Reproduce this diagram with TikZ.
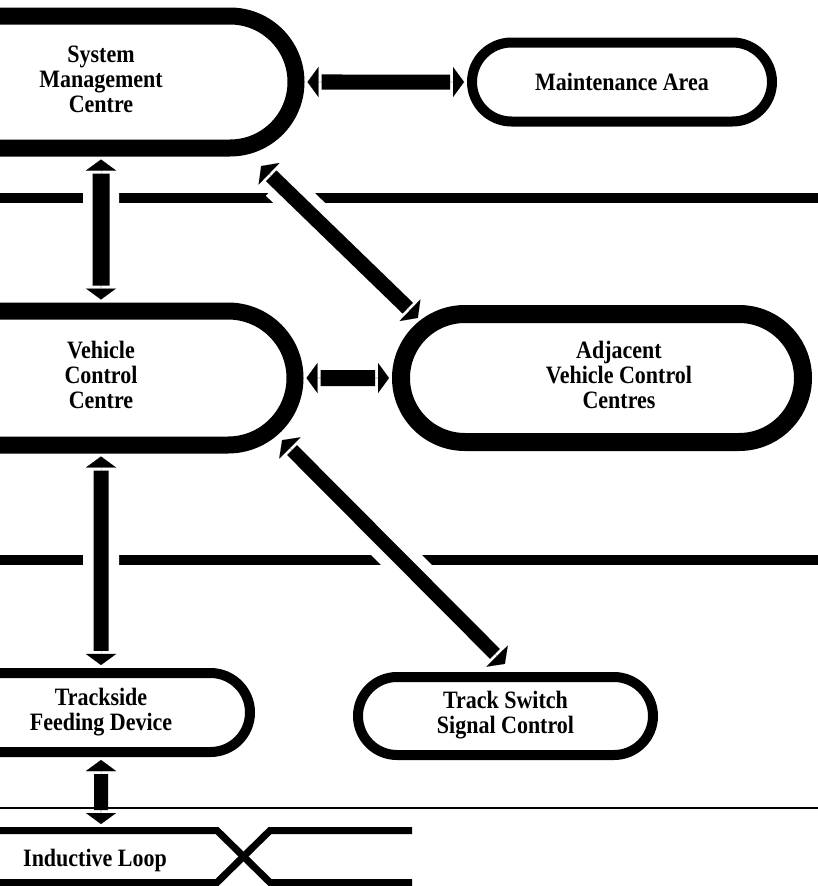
\documentclass[tikz,border=0pt]{standalone}
\usepackage{fontspec}
\setmainfont{Liberation Serif}[FakeStretch=0.88]
\usetikzlibrary{shapes.misc,arrows.meta}
\pgfdeclarelayer{rails}
\pgfsetlayers{rails,main}
\newcommand\boxlines[1]{\begin{tabular}{@{}c@{}}#1\end{tabular}}
\begin{document}
\begin{tikzpicture}[x=1pt,y=-1pt,
  lbl/.style={font=\bfseries\fontsize{25}{25}\selectfont},
  pill/.style={lbl, rounded rectangle, draw, inner sep=0pt},
  heavy/.style={pill, line width=17pt},
  light/.style={pill, line width=10pt},
  rail/.style={line width=10pt},
  halo/.style={preaction={draw=white, -, line width=36pt, shorten <=27pt, shorten >=27pt}},
  shaft/.style={preaction={draw=black, -, line width=#1, shorten <=17pt, shorten >=17pt}},
  link/.style={draw=black, line width=0.01pt,
    {Triangle[length=11pt,width=30pt]}-{Triangle[length=11pt,width=30pt]},
    shorten <=3pt, shorten >=3pt},
]
\useasboundingbox (0,0) rectangle (818,886);

% zone separators
\begin{pgfonlayer}{rails}
  \draw[rail] (0,198) -- (818,198);
  \draw[rail] (0,560) -- (818,560);
  \draw[line width=2pt] (0,808) -- (818,808);
\end{pgfonlayer}

% centres and devices
\node[heavy, minimum width=390pt, minimum height=132pt] (smc) at (101,82)
  {\boxlines{System\\Management\\Centre}};
\node[light, minimum width=300pt, minimum height=79pt] (ma) at (622,82)
  {Maintenance Area};
\node[heavy, minimum width=388pt, minimum height=134pt] (vcc) at (101,378)
  {\boxlines{Vehicle\\Control\\Centre}};
\node[heavy, line width=18pt, minimum width=402pt, minimum height=128pt] (avcc) at (602,378)
  {\kern34pt\boxlines{Adjacent\\Vehicle Control\\Centres}};
\node[light, minimum width=298pt, minimum height=79pt] (tfd) at (101,712.5)
  {\boxlines{Trackside\\Feeding Device}};
\node[light, minimum width=295pt, minimum height=78pt] (tssc) at (505.5,716)
  {\boxlines{Track Switch\\Signal Control}};

% inductive loop with its crossover
\draw[line width=7pt] (0,830.5) -- (217,830.5) -- (270,882.5) -- (412,882.5);
\draw[line width=7pt] (0,882.5) -- (217,882.5) -- (270,830.5) -- (412,830.5);
\node[lbl, anchor=base west, inner sep=0pt] (loopname) at (23,866) {Inductive Loop};
\coordinate (loop) at (101,827);

% ends of the diagonal links
\coordinate (d1a) at ([shift={(-45.5,82)}]smc.east);
\coordinate (d1b) at ([shift={(28,-58)}]avcc.west);
\coordinate (d2a) at ([shift={(-23.5,60)}]vcc.east);
\coordinate (d2b) at ([shift={(1.5,-6)}]tssc.north);

% two-way links
\draw[shaft=15pt, link] (smc) -- (ma);
\draw[halo, shaft=17pt, link] (smc) -- (vcc);
\draw[halo, shaft=15pt, link] (d1a) -- (d1b);
\draw[shaft=16pt, link] (vcc) -- (avcc);
\draw[halo, shaft=15pt, link] (vcc) -- (tfd);
\draw[halo, shaft=14pt, link] (d2a) -- (d2b);
\draw[shaft=14pt, link] (tfd) -- (loop);
\end{tikzpicture}
\end{document}
